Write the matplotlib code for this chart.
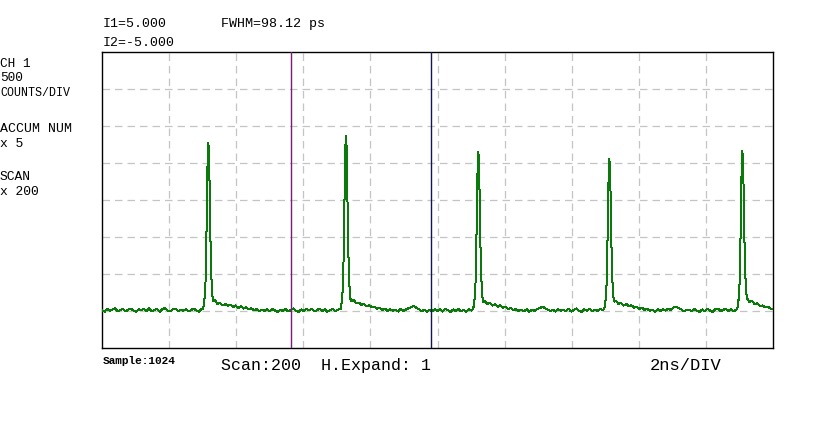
import matplotlib
matplotlib.use('Agg')
import matplotlib.pyplot as plt
import numpy as np

W, H = 814, 427

# baseline readings, every 4 samples (0..1020), counts
base_step = 4
base_counts = [
    512, 490, 528, 503, 521, 536, 497, 515, 530, 494, 518, 533, 506, 488, 524, 510,
    529, 499, 535, 496, 517, 526, 489, 522, 540, 505, 493, 520, 531, 498, 516, 502,
    524, 495, 513, 532, 509, 492, 527, 520, 520, 520, 520, 655, 598, 612, 575, 596,
    570, 588, 553, 575, 541, 566, 532, 549, 521, 538, 508, 526, 497, 517, 502, 523,
    498, 524, 507, 489, 518, 501, 530, 494, 512, 535, 503, 487, 521, 499, 528, 506,
    527, 494, 511, 533, 500, 522, 490, 509, 531, 497, 516, 520, 520, 520, 520, 520,
    650, 603, 615, 580, 596, 562, 578, 548, 560, 531, 545, 515, 530, 498, 522, 505,
    518, 493, 529, 502, 520, 538, 550, 568, 541, 525, 496, 519, 491, 514, 500, 527,
    503, 524, 492, 530, 508, 489, 521, 499, 527, 495, 516, 488, 524, 506, 520, 520,
    520, 520, 640, 596, 610, 572, 593, 560, 577, 543, 558, 528, 541, 511, 527, 499,
    518, 494, 523, 490, 515, 501, 529, 536, 558, 540, 522, 497, 519, 492, 526, 503,
    521, 496, 530, 493, 512, 534, 498, 487, 525, 503, 532, 494, 518, 500, 527, 511,
    520, 520, 520, 520, 638, 598, 613, 574, 596, 561, 577, 546, 560, 530, 544, 515,
    531, 500, 518, 489, 523, 497, 526, 505, 532, 515, 548, 560, 537, 521, 496, 515,
    520, 494, 528, 499, 486, 521, 498, 530, 505, 489, 523, 534, 497, 516, 531, 502,
    524, 497, 516, 520, 520, 520, 520, 625, 640, 590, 606, 568, 575, 550, 558, 535,
]
end_sample, end_count = 1023, 530

# peaks: centre sample, counts at offsets -8..+8
peak_centres = [162, 372, 574, 774, 977]
peak_counts = [
    [530, 560, 620, 720, 900, 1300, 1900, 2450, 2770, 2700, 2300, 1700, 1250, 950, 760, 660, 630],
    [528, 565, 630, 740, 930, 1350, 1980, 2560, 2865, 2790, 2380, 1760, 1280, 970, 770, 670, 635],
    [525, 555, 610, 705, 880, 1250, 1820, 2340, 2650, 2580, 2200, 1620, 1200, 920, 740, 650, 620],
    [522, 552, 605, 695, 860, 1220, 1760, 2260, 2555, 2490, 2130, 1570, 1170, 900, 730, 655, 625],
    [526, 558, 615, 710, 885, 1260, 1830, 2350, 2660, 2590, 2210, 1640, 1220, 940, 765, 690, 665],
]
half = 8

cursor1 = 288
cursor2 = 502

# merge baseline and peak readings
pts = {}
for i, c in enumerate(base_counts):
    s = i * base_step
    if all(abs(s - pc) > half for pc in peak_centres):
        pts[s] = c
pts[end_sample] = end_count
for pc, vals in zip(peak_centres, peak_counts):
    for k, v in enumerate(vals):
        pts[pc - half + k] = v
xs = np.array(sorted(pts))
ys = np.array([pts[s] for s in xs])

fig = plt.figure(figsize=(W / 100, H / 100), dpi=100)
fig.patch.set_facecolor('white')
ax = fig.add_axes([102 / W, (H - 349) / H, 671 / W, 296 / H])
ax.set_xlim(0, 1024)
ax.set_ylim(0, 4000)
ax.set_xticks(np.linspace(0, 1024, 11)[1:-1])
ax.set_yticks(np.arange(500, 4000, 500))
ax.tick_params(length=0, labelbottom=False, labelleft=False)
ax.grid(True, color='#c4c4c4', linestyle=(0, (6, 4)), linewidth=0.9)
for sp_ in ax.spines.values():
    sp_.set_linewidth(1.0)
    sp_.set_color('black')

ax.plot(xs, ys, color='#0a7a0a', linewidth=0.72, antialiased=False, zorder=3)
ax.axvline(cursor1, color='#7a1a7a', linewidth=1.0, zorder=4)
ax.axvline(cursor2, color='#141450', linewidth=1.0, zorder=4)

mono = 'Liberation Mono'

def put(x, y, s, size, **kw):
    fig.text(x / W, 1 - y / H, s, fontsize=size, family=mono, va='baseline', ha='left', **kw)

put(103, 27, 'I1=5.000', 9.5)
put(221, 27, 'FWHM=98.12 ps', 9.6)
put(103, 46, 'I2=-5.000', 9.5)

put(0, 67, 'CH 1', 9.2)
put(0, 81, '500', 9.2)
put(0, 96, 'COUNTS/DIV', 8.4)
put(0, 132, 'ACCUM NUM', 9.5)
put(0, 147, 'x 5', 9.4)
put(0, 180, 'SCAN', 9.4)
put(0, 195, 'x 200', 9.4)

put(103, 364, 'Sample:1024', 8, fontweight='bold')
put(221, 370, 'Scan:200  H.Expand: 1', 12)
put(650, 370, '2ns/DIV', 12.3)

fig.savefig('out.png', dpi=100)
